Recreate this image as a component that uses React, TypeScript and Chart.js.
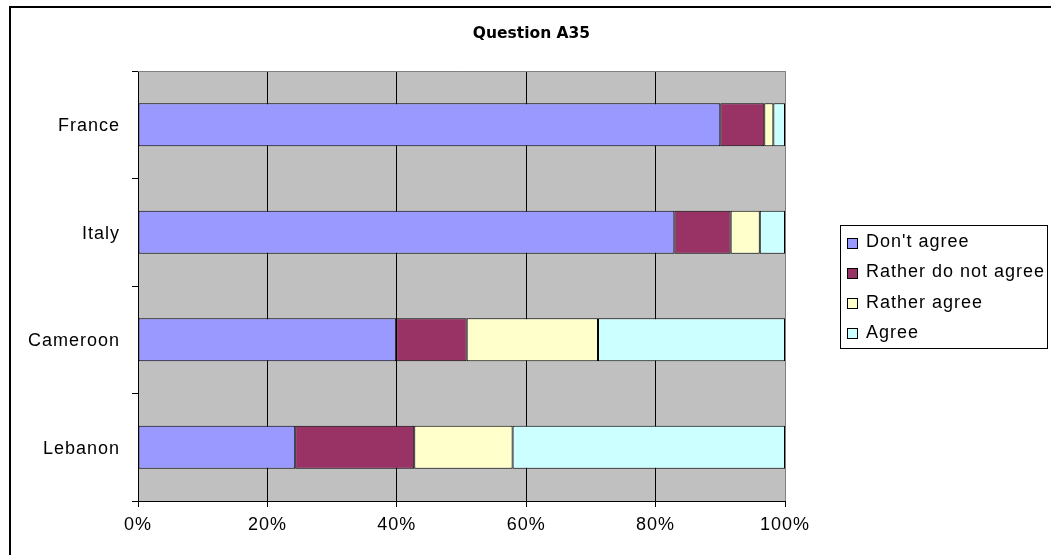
import React, { useEffect, useRef } from "react";
import { Chart, registerables } from "chart.js";

Chart.register(...registerables);

const categories = ["France", "Italy", "Cameroon", "Lebanon"];
const seriesNames = ["Don't agree", "Rather do not agree", "Rather agree", "Agree"];
const dontAgree = [90.0, 82.9, 39.9, 24.3];
const ratherNotAgree = [6.8, 8.7, 10.9, 18.4];
const ratherAgree = [1.4, 4.5, 20.3, 15.2];
const agree = [1.8, 3.9, 28.9, 42.1];
const seriesColors = ["#9999FF", "#993366", "#FFFFCC", "#CCFFFF"];
const xTicks = [0, 20, 40, 60, 80, 100];
const titleText = "Question A35";

const FONT_FAMILY = "'Liberation Sans', Arial, sans-serif";
const FONT_SIZE = 18;

export default function App() {
  const ref = useRef<HTMLCanvasElement | null>(null);

  useEffect(() => {
    if (!ref.current) return;
    const values = [dontAgree, ratherNotAgree, ratherAgree, agree];

    const framePlugin = {
      id: "frame",
      beforeDraw(chart: any) {
        const { ctx, chartArea } = chart;
        ctx.letterSpacing = "1px";
        ctx.save();
        ctx.fillStyle = "#C0C0C0";
        ctx.fillRect(chartArea.left, chartArea.top, chartArea.right - chartArea.left, chartArea.bottom - chartArea.top);
        ctx.restore();
      },
      afterDraw(chart: any) {
        const { ctx, chartArea } = chart;
        ctx.save();
        // plot area top border
        ctx.strokeStyle = "#808080";
        ctx.lineWidth = 1;
        ctx.beginPath();
        ctx.moveTo(chartArea.left, chartArea.top + 0.5);
        ctx.lineTo(chartArea.right, chartArea.top + 0.5);
        ctx.stroke();

        // outer frame
        ctx.fillStyle = "#000";
        ctx.fillRect(9, 6, 2, 560);
        ctx.fillRect(9, 6, 1050, 2);

        // title
        ctx.letterSpacing = "0px";
        ctx.fillStyle = "#000";
        ctx.font = "bold 15.5px 'DejaVu Sans', Verdana, sans-serif";
        ctx.textAlign = "center";
        ctx.textBaseline = "middle";
        ctx.fillText(titleText, 531.5, 34);

        // legend
        ctx.letterSpacing = "1px";
        ctx.strokeStyle = "#000";
        ctx.lineWidth = 1;
        ctx.strokeRect(840.5, 225.5, 207, 123);
        ctx.font = `${FONT_SIZE}px ${FONT_FAMILY}`;
        ctx.textAlign = "left";
        ctx.textBaseline = "middle";
        chart.data.datasets.forEach((ds: any, i: number) => {
          const cy = 241.5 + i * 30.3;
          ctx.fillStyle = ds.backgroundColor;
          ctx.fillRect(847.5, Math.round(cy) - 3.5, 10, 10);
          ctx.strokeStyle = "#000";
          ctx.strokeRect(847.5, Math.round(cy) - 3.5, 10, 10);
          ctx.fillStyle = "#000";
          ctx.fillText(ds.label, 866, cy + 0.5);
        });
        ctx.restore();
      },
    };

    const chart = new Chart(ref.current, {
      type: "bar",
      data: {
        labels: categories,
        datasets: seriesNames.map((name, i) => ({
          label: name,
          data: values[i],
          backgroundColor: seriesColors[i],
          borderColor: "#000",
          borderWidth: 1,
          borderSkipped: false,
          barPercentage: 1,
          categoryPercentage: 0.4,
        })),
      },
      options: {
        indexAxis: "y",
        responsive: false,
        animation: false,
        layout: { padding: { left: 0, top: 71, right: 266, bottom: 0 } },
        plugins: {
          legend: { display: false },
          title: { display: false },
          tooltip: { enabled: false },
        },
        scales: {
          x: {
            stacked: true,
            min: 0,
            max: 100,
            afterFit(scale: any) {
              scale.height = 54;
            },
            afterBuildTicks(scale: any) {
              scale.ticks = xTicks.map((v) => ({ value: v }));
            },
            ticks: {
              color: "#000",
              font: { family: FONT_FAMILY, size: FONT_SIZE },
              padding: 7,
              maxRotation: 0,
              callback: (v: any) => `${v}%`,
            },
            grid: {
              color: (c: any) => (c.tick && c.tick.value === 100 ? "#808080" : "#000"),
              tickColor: "#000",
              tickLength: 6,
              lineWidth: 1,
            },
            border: { color: "#000", width: 1 },
          },
          y: {
            stacked: true,
            afterFit(scale: any) {
              scale.width = 138;
            },
            ticks: {
              color: "#000",
              font: { family: FONT_FAMILY, size: FONT_SIZE },
              padding: 12,
              labelOffset: 1.5,
            },
            grid: {
              offset: true,
              drawOnChartArea: false,
              color: "#000",
              tickLength: 6,
              lineWidth: 1,
            },
            border: { color: "#000", width: 1 },
          },
        },
      },
      plugins: [framePlugin],
    } as any);

    return () => chart.destroy();
  }, []);

  return (
    <div style={{ position: "fixed", left: 0, top: 0, width: 1051, height: 555, background: "#fff" }}>
      <canvas ref={ref} width={1051} height={555} style={{ display: "block" }} />
    </div>
  );
}
